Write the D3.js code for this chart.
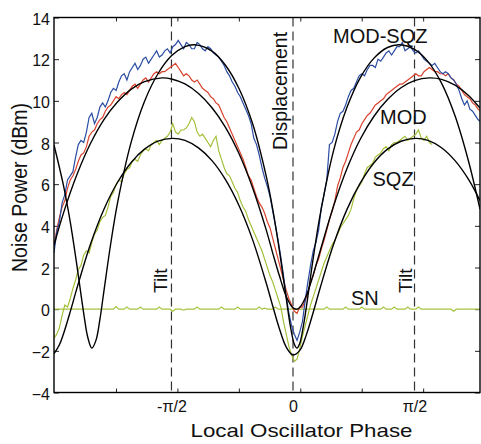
<!DOCTYPE html>
<html>
<head>
<meta charset="utf-8">
<script src="https://cdn.jsdelivr.net/npm/d3@7"></script>
<style>
body { margin: 0; background: #fff; }
text { font-family: "Liberation Sans", Arial, Helvetica, sans-serif; }
</style>
</head>
<body>
<svg id="chart" width="481" height="444"></svg>
<script>
// local oscillator phase (degrees) sampling of the measured traces
const phase = [
  -177,-175,-173,-171,-169,-167,-165,-163,-161,-159,-157,-155,-153,-151,-149,-147,-145,-143,-141,-139,
  -137,-135,-133,-131,-129,-127,-125,-123,-121,-119,-117,-115,-113,-111,-109,-107,-105,-103,-101,-99,
  -97,-95,-93,-91,-89,-87,-85,-83,-81,-79,-77,-75,-73,-71,-69,-67,-65,-63,-61,-59,
  -57,-55,-53,-51,-49,-47,-45,-43,-41,-39,-37,-35,-33,-31,-29,-27,-25,-23,-21,-19,
  -17,-15,-13,-11,-9,-7,-5,-3,-1,1,3,5,7,9,11,13,15,17,19,21,
  23,25,27,29,31,33,35,37,39,41,43,45,47,49,51,53,55,57,59,61,
  63,65,67,69,71,73,75,77,79,81,83,85,87,89,91,93,95,97,99,101,
  103,105,107,109,111,113,115,117,119,121,123,125,127,129,131,133,135,137,139
];
// noise power (dBm)
const modSqz = [
  2.7,3.7,4.2,5.1,5.5,6.2,6.4,6.6,7.3,7.9,8.1,8.0,8.5,9.2,9.4,8.9,9.2,9.7,9.9,9.7,
  10.0,10.4,10.6,10.5,10.9,11.2,11.3,11.0,11.4,11.6,11.8,11.5,11.7,12.0,12.1,11.8,12.0,12.2,12.4,12.1,
  12.2,12.4,12.5,12.3,12.6,12.7,12.9,12.7,12.5,12.8,12.7,12.5,12.5,12.8,12.7,12.5,12.4,12.6,12.5,12.3,
  12.2,12.1,11.9,11.7,11.4,11.2,10.9,10.7,10.4,10.2,9.9,9.6,9.3,8.9,8.2,7.9,7.4,6.8,6.3,5.9,
  5.4,4.7,4.0,3.3,2.5,1.6,0.6,-0.2,-0.8,-1.2,-1.5,-1.1,-0.6,0.4,1.3,2.1,2.8,3.2,3.8,4.9,
  5.5,6.2,7.9,8.0,8.4,9.0,9.4,9.5,9.8,10.2,10.5,10.6,10.9,11.2,11.3,11.2,11.5,11.7,11.7,11.6,
  12.0,11.9,12.1,12.3,12.4,12.2,12.4,12.6,12.6,12.8,12.4,12.5,12.6,12.4,12.3,12.4,12.2,12.0,11.9,11.8,
  11.7,11.8,11.6,11.4,11.3,11.4,11.3,11.1,11.0,10.8,10.5,10.1,9.8,10.0,9.6,9.5,9.3,9.1,9.0
];
const mod = [
  3.0,3.8,4.4,4.9,5.2,5.8,6.2,6.4,6.7,7.1,7.4,7.5,7.8,8.3,8.5,8.6,8.9,9.1,9.2,9.5,
  9.7,9.8,10.0,10.2,10.1,10.3,10.4,10.3,10.5,10.7,10.8,10.6,10.8,11.0,11.1,10.9,11.1,11.3,11.4,11.3,
  11.4,11.4,11.5,11.6,11.7,11.8,11.6,11.4,11.2,11.3,11.2,11.0,10.9,11.0,10.8,10.6,10.5,10.4,10.2,10.1,
  9.9,9.8,9.5,9.2,9.0,8.7,8.4,8.1,7.8,7.5,7.2,6.8,6.4,6.2,5.8,5.4,5.1,4.9,4.6,4.2,
  3.9,3.4,2.9,2.4,1.9,1.4,0.9,0.5,0.2,-0.1,-0.2,0.1,0.1,0.4,0.8,1.3,1.6,2.1,2.4,2.9,
  3.3,3.8,4.3,4.7,5.2,5.9,6.3,6.8,7.1,7.5,7.9,8.2,8.5,8.6,8.9,9.1,9.3,9.4,9.6,9.8,
  9.9,10.0,10.1,10.3,10.4,10.5,10.6,10.7,10.8,10.8,10.9,11.0,11.1,11.2,11.3,11.2,11.2,11.4,11.5,11.6,
  11.5,11.4,11.4,11.3,11.3,11.2,11.3,11.1,11.0,10.8,10.7,10.5,10.3,10.2,10.1,9.9,9.8,9.6,9.5
];
const sqz = [
  -1.4,-1.2,-0.9,-0.3,0.2,0.1,0.5,1.0,1.4,1.9,2.1,2.6,2.8,2.7,3.2,3.6,3.8,4.2,4.4,4.5,
  4.9,5.4,5.6,6.0,6.2,6.1,6.5,6.7,6.8,7.1,7.2,7.1,7.4,7.6,7.7,7.6,7.9,8.0,8.1,7.9,
  8.1,8.2,8.3,8.5,8.9,8.5,8.4,8.6,8.6,8.7,8.9,9.2,9.0,8.5,8.3,8.4,8.2,8.0,7.8,8.1,
  8.3,7.6,7.2,6.8,6.5,6.4,6.1,5.8,5.6,5.2,4.9,4.7,4.3,4.0,3.7,3.4,3.1,2.8,2.4,2.0,
  1.6,1.3,0.9,0.5,0.1,-0.6,-1.2,-1.8,-2.2,-2.5,-2.4,-1.9,-1.3,-0.8,-0.3,0.2,0.6,1.0,1.4,1.8,
  2.2,2.5,2.8,3.1,3.3,3.6,3.9,4.1,4.3,4.5,4.8,5.3,5.7,5.9,6.1,6.5,6.8,6.9,7.0,7.3,
  7.4,7.5,7.7,7.8,7.6,7.9,8.0,8.0,8.1,8.2,8.3,8.1,8.2,8.3,8.4,8.6,8.2,8.1,8.3,8.0,
  7.9,null,null,null,null,null,null,null,null,null,null,null,null,null,null,null,null,null,null
];
const shotNoise = [
  0,0,0,0,0,0,0,0,0,0,0,0,0,0,0,0,0,0,0,0,
  0,0,0,0.12,0,0,0,0.1,0,0,0,0,0.1,0,0,0,0,0,0,0.1,
  0,0,0,0,-0.1,0,0,0,-0.05,0,0,0,0,0.1,0,0,0,0,0,0,
  0,0,0.1,0,0,0,0,0,0.1,0,0,0,0,0,0,0,0.1,0,0.05,0,
  0,0,0.1,0,0,0,0,0,0,0,0,0,0,0,0,0,0,0,0,0,
  0,0.1,0,0,0,0,0,0,0.1,0,0,0,0,0,0.1,0,0,0,0,0,
  0,0,0.1,0,0,0,0.1,0,0,0,0,0.1,0,0,0,0.1,0,0,0,0,
  0,0,0,0,0,0,0,0,-0.1,0,0,0,0,0,0,0,0,0,0
];
// fitted curves [phase, dBm]
const modSqzFit = [[-177,7.88],[-170,5.94],[-165,4.2],[-160,2.08],[-155,-0.2],[-152,-1.35],[-149,-1.87],[-146,-1.51],[-143,-0.49],[-140,0.88],[-135,3.14],[-130,5.08],[-120,7.98],[-110,9.97],[-100,11.3],[-90,12.16],[-80,12.6],[-73,12.69],[-60,12.39],[-50,11.71],[-40,10.59],[-30,8.92],[-20,6.43],[-15,4.8],[-10,2.79],[-5,0.52],[-2,-0.79],[1,-1.68],[3,-1.87],[5,-1.65],[8,-0.69],[10,0.14],[15,2.46],[20,4.49],[30,7.6],[40,9.69],[50,11.13],[60,12.05],[70,12.56],[79,12.69],[90,12.47],[100,11.88],[110,10.85],[120,9.28],[130,7.1],[138.5,4.8]];
const modFit = [[-177,3.07],[-170,4.61],[-160,6.46],[-150,7.95],[-140,9.1],[-130,9.94],[-120,10.55],[-110,10.92],[-97,11.1],[-90,11.05],[-80,10.81],[-70,10.35],[-60,9.67],[-50,8.73],[-40,7.47],[-30,5.84],[-20,3.84],[-15,2.69],[-10,1.59],[-5,0.61],[0,0.06],[3,0.0],[5,0.08],[10,0.67],[15,1.66],[20,2.77],[30,4.94],[40,6.75],[50,8.18],[60,9.26],[70,10.06],[80,10.63],[90,10.97],[101,11.1],[110,11.03],[120,10.75],[130,10.26],[138.5,9.65]];
const sqzFit = [[-177,-2.14],[-173,-1.71],[-170,-1.19],[-165,-0.13],[-160,1.01],[-150,3.12],[-140,4.8],[-130,6.08],[-120,7.03],[-110,7.68],[-100,8.07],[-89,8.2],[-80,8.1],[-70,7.74],[-60,7.13],[-50,6.22],[-40,4.98],[-30,3.35],[-20,1.29],[-15,0.15],[-10,-0.95],[-5,-1.82],[0,-2.2],[5,-1.98],[10,-1.21],[15,-0.15],[20,0.99],[30,3.1],[40,4.79],[50,6.07],[60,7.03],[70,7.68],[80,8.06],[91,8.2],[100,8.1],[110,7.75],[120,7.13],[130,6.23],[138.5,5.21]];

const yTicks = [-4,-2,0,2,4,6,8,10,12,14];
const xMinorTicks = [-131.1,-85.6,-40.1,5.4,50.9,96.4];
const xLabelTicks = [-90, 0, 90];
const xLabelText = ['-\u03C0/2', '0', '\u03C0/2'];
const markers = [{p: -90, text: 'Tilt'}, {p: 0, text: 'Displacement'}, {p: 90, text: 'Tilt'}];

const svg = d3.select('#chart');
const plotL = 54, plotR = 480, plotT = 17.5, plotB = 392.5;

const x = d3.scaleLinear().domain([-177, 138.5]).range([plotL, plotR]);
const y = d3.scaleLinear().domain([-4, 14]).range([plotB, plotT]);

svg.append('clipPath').attr('id', 'clip')
  .append('rect').attr('x', plotL).attr('y', plotT)
  .attr('width', plotR - plotL).attr('height', plotB - plotT);

// axes (ticks point inward)
const yAxisL = svg.append('g').attr('transform', `translate(${plotL},0)`)
  .call(d3.axisLeft(y).tickValues(yTicks).tickSizeInner(-5).tickSizeOuter(0).tickPadding(4));
yAxisL.selectAll('text').attr('font-size', 16).attr('dy', '0.42em').attr('fill', '#111');
svg.append('g').attr('transform', `translate(${plotR},0)`)
  .call(d3.axisRight(y).tickValues(yTicks).tickSizeInner(-5).tickSizeOuter(0).tickFormat(''));
svg.append('g').attr('transform', `translate(0,${plotB})`)
  .call(d3.axisBottom(x).tickValues(xMinorTicks).tickSizeInner(-4).tickSizeOuter(0).tickFormat(''));
svg.append('g').attr('transform', `translate(0,${plotT})`)
  .call(d3.axisTop(x).tickValues(xMinorTicks).tickSizeInner(-4).tickSizeOuter(0).tickFormat(''));
const xLab = svg.append('g').attr('transform', `translate(0,${plotB})`)
  .call(d3.axisBottom(x).tickValues(xLabelTicks).tickSize(0).tickPadding(8.5)
    .tickFormat((d, i) => xLabelText[i]));
xLab.selectAll('text').attr('font-size', 16).attr('fill', '#111');
svg.selectAll('.domain').remove();
svg.selectAll('.tick line').attr('stroke', '#222');

// dashed phase markers
svg.append('g').selectAll('line').data(markers).join('line')
  .attr('x1', d => x(d.p)).attr('x2', d => x(d.p))
  .attr('y1', plotT).attr('y2', plotB)
  .attr('stroke', '#333').attr('stroke-width', 1.2)
  .attr('stroke-dasharray', '9,5');

const plot = svg.append('g').attr('clip-path', 'url(#clip)');

const traceLine = d3.line()
  .defined(d => d[1] != null)
  .x(d => x(d[0])).y(d => y(d[1]));
const fitLine = d3.line()
  .x(d => x(d[0])).y(d => y(d[1]))
  .curve(d3.curveCatmullRom.alpha(0.5));

const traces = [
  {vals: shotNoise, color: '#a6c441'},
  {vals: sqz, color: '#a3c03b'},
  {vals: mod, color: '#d9432d'},
  {vals: modSqz, color: '#2a4ca2'}
];
traces.forEach(t => {
  plot.append('path')
    .datum(phase.map((p, i) => [p, t.vals[i]]))
    .attr('d', traceLine)
    .attr('fill', 'none').attr('stroke', t.color).attr('stroke-width', 1.2);
});

[modSqzFit, modFit, sqzFit].forEach(f => {
  plot.append('path').datum(f).attr('d', fitLine)
    .attr('fill', 'none').attr('stroke', '#000').attr('stroke-width', 1.4);
});

// frame
svg.append('rect').attr('x', plotL).attr('y', plotT)
  .attr('width', plotR - plotL).attr('height', plotB - plotT)
  .attr('fill', 'none').attr('stroke', '#000').attr('stroke-width', 1.4);

// in-plot labels
const lbl = svg.append('g').attr('font-size', 20).attr('fill', '#111');
lbl.append('text').attr('x', 333).attr('y', 42.5).text('MOD-SQZ');
lbl.append('text').attr('x', 380).attr('y', 124.3).text('MOD');
lbl.append('text').attr('x', 372.5).attr('y', 185.7).text('SQZ');
lbl.append('text').attr('x', 351).attr('y', 305).text('SN');
lbl.append('text').attr('transform', 'translate(167,293) rotate(-90)')
  .attr('font-size', 19).text('Tilt');
lbl.append('text').attr('transform', 'translate(411.5,293) rotate(-90)')
  .attr('font-size', 19).text('Tilt');
lbl.append('text').attr('transform', 'translate(287,150) rotate(-90)')
  .attr('font-size', 19.5).text('Displacement');

// axis titles
svg.append('text')
  .attr('transform', 'translate(301.5,437) scale(1.24,1)')
  .attr('text-anchor', 'middle').attr('font-size', 18).attr('fill', '#111')
  .text('Local Oscillator Phase');
svg.append('text')
  .attr('transform', 'translate(26.5,187.5) scale(1.17,1) rotate(-90)')
  .attr('text-anchor', 'middle').attr('font-size', 19.5).attr('fill', '#111')
  .text('Noise Power (dBm)');
</script>
</body>
</html>
